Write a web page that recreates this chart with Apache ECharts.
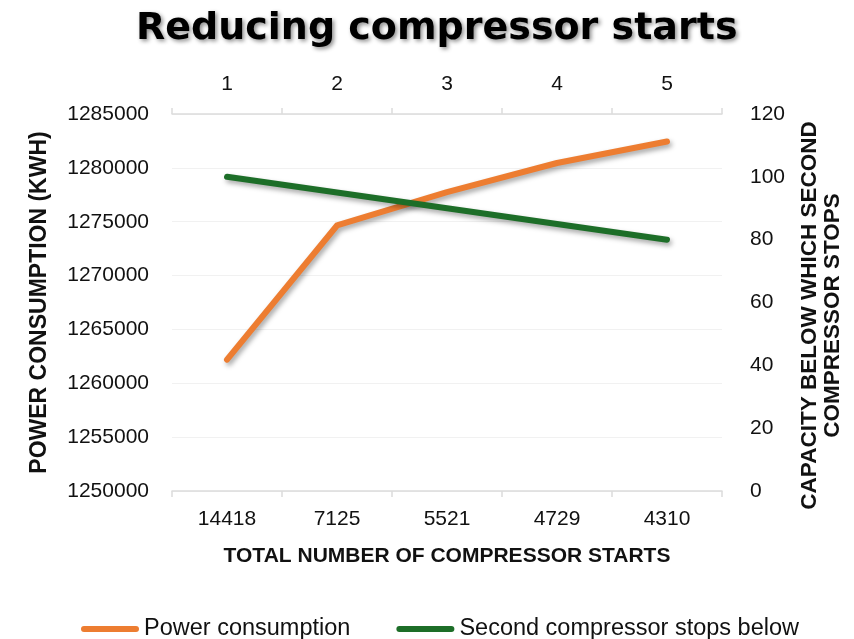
<!DOCTYPE html>
<html>
<head>
<meta charset="utf-8">
<script src="https://cdn.jsdelivr.net/npm/echarts@6/dist/echarts.min.js"></script>
<style>
  html, body { margin: 0; padding: 0; background: #fff; }
  #chart { width: 854px; height: 639px; }
</style>
</head>
<body>
<div id="chart"></div>
<script>
// Total compressor starts (bottom axis) and scenario number (top axis)
const startCounts = ['14418', '7125', '5521', '4729', '4310'];
const scenarios = ['1', '2', '3', '4', '5'];

// Annual power consumption in kWh for each scenario
const powerConsumption = [1262200, 1274650, 1277750, 1280450, 1282450];
// Capacity (%) below which the second compressor stops
const secondStopCapacity = [100, 95, 90, 85, 80];

const seriesNames = ['Power consumption', 'Second compressor stops below'];

const textColor = '#111';
const axisGray = '#dcdcdc';
const gridGray = '#f1f1f1';
const orange = '#ED7D31';
const green = '#1D6E28';
const labelFont = 'Liberation Sans, Arial, sans-serif';

const capsule = 'path://M3,0 H55 A3,3 0 0 1 55,6 H3 A3,3 0 0 1 3,0 Z';

const chart = echarts.init(document.getElementById('chart'), null, { renderer: 'canvas' });

chart.setOption({
  backgroundColor: '#fff',
  animation: false,
  title: {
    text: 'Reducing compressor starts',
    left: 131,
    top: 5,
    textStyle: {
      fontFamily: 'DejaVu Sans, sans-serif',
      fontWeight: 'bold',
      fontSize: 38,
      color: '#000',
      textShadowColor: 'rgba(0,0,0,0.45)',
      textShadowBlur: 4,
      textShadowOffsetX: 2,
      textShadowOffsetY: 2
    }
  },
  legend: {
    top: 612,
    left: 76,
    itemWidth: 58,
    itemHeight: 6,
    itemGap: 46,
    textStyle: { fontFamily: labelFont, fontSize: 23.5, color: textColor },
    data: [
      { name: seriesNames[0], icon: capsule, itemStyle: { color: orange } },
      { name: seriesNames[1], icon: capsule, itemStyle: { color: green } }
    ]
  },
  grid: { left: 172, right: 132, top: 114, bottom: 148 },
  xAxis: [
    {
      type: 'category',
      position: 'bottom',
      data: startCounts,
      boundaryGap: true,
      name: 'TOTAL NUMBER OF COMPRESSOR STARTS',
      nameLocation: 'middle',
      nameGap: 55,
      nameTextStyle: { fontFamily: labelFont, fontWeight: 'bold', fontSize: 21, color: textColor },
      axisLine: { show: true, lineStyle: { color: axisGray, width: 1.5 } },
      axisTick: { show: true, length: 6, lineStyle: { color: axisGray, width: 1.5 } },
      axisLabel: { margin: 18, fontFamily: labelFont, fontSize: 21, color: textColor }
    },
    {
      type: 'category',
      position: 'top',
      data: scenarios,
      boundaryGap: true,
      axisLine: { show: true, lineStyle: { color: axisGray, width: 1.5 } },
      axisTick: { show: true, length: 6, lineStyle: { color: axisGray, width: 1.5 } },
      axisLabel: { margin: 19, fontFamily: labelFont, fontSize: 21, color: textColor }
    }
  ],
  yAxis: [
    {
      type: 'value',
      position: 'left',
      min: 1250000,
      max: 1285000,
      interval: 5000,
      name: 'POWER CONSUMPTION (KWH)',
      nameLocation: 'middle',
      nameGap: 121,
      nameTextStyle: { fontFamily: labelFont, fontWeight: 'bold', fontSize: 23, color: textColor },
      axisLine: { show: false },
      axisTick: { show: false },
      splitLine: { show: true, lineStyle: { color: gridGray, width: 1 } },
      axisLabel: {
        margin: 23, fontFamily: labelFont, fontSize: 21, color: textColor,
        formatter: (v) => String(v)
      }
    },
    {
      type: 'value',
      position: 'right',
      min: 0,
      max: 120,
      interval: 20,
      name: 'CAPACITY BELOW WHICH SECOND\nCOMPRESSOR STOPS',
      nameLocation: 'middle',
      nameGap: 76,
      nameRotate: 90,
      nameTextStyle: {
        fontFamily: labelFont, fontWeight: 'bold', fontSize: 22.5, color: textColor, lineHeight: 23,
        padding: [0, 26, 0, 0]
      },
      axisLine: { show: false },
      axisTick: { show: false },
      splitLine: { show: false },
      axisLabel: { margin: 28, fontFamily: labelFont, fontSize: 21, color: textColor }
    }
  ],
  series: [
    {
      name: seriesNames[0],
      type: 'line',
      xAxisIndex: 0,
      yAxisIndex: 0,
      data: powerConsumption,
      symbol: 'none',
      lineStyle: {
        color: orange, width: 6, cap: 'round', join: 'round',
        shadowColor: 'rgba(0,0,0,0.35)', shadowBlur: 5, shadowOffsetX: 2, shadowOffsetY: 3
      },
      itemStyle: { color: orange }
    },
    {
      name: seriesNames[1],
      type: 'line',
      xAxisIndex: 1,
      yAxisIndex: 1,
      data: secondStopCapacity,
      symbol: 'none',
      lineStyle: {
        color: green, width: 6, cap: 'round', join: 'round',
        shadowColor: 'rgba(0,0,0,0.35)', shadowBlur: 5, shadowOffsetX: 2, shadowOffsetY: 3
      },
      itemStyle: { color: green }
    }
  ]
});
</script>
</body>
</html>
